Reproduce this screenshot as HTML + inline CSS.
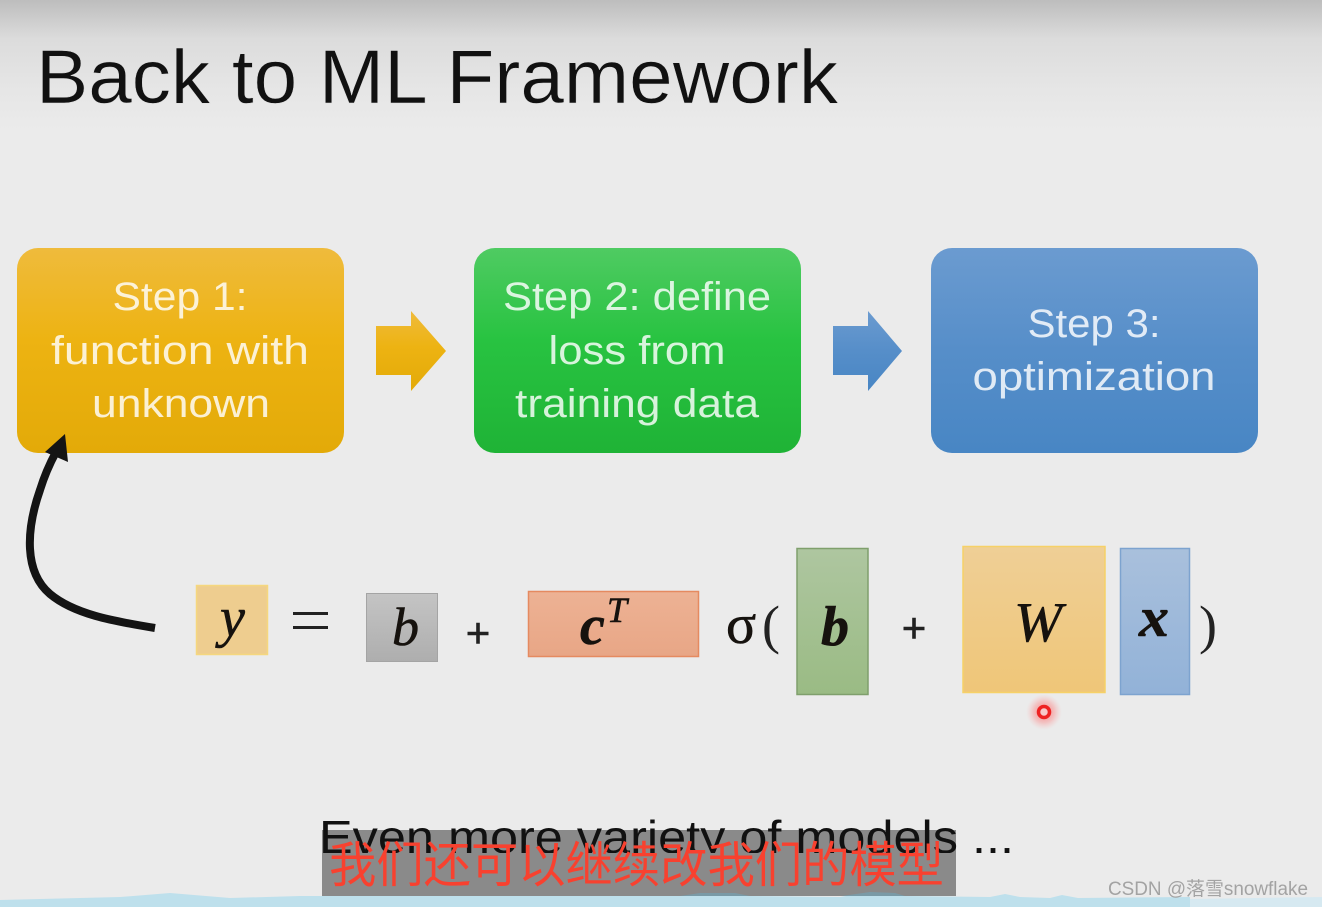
<!DOCTYPE html>
<html>
<head>
<meta charset="utf-8">
<style>
html,body{margin:0;padding:0;background:#ebebeb}
svg{display:block}
text{font-family:"Liberation Sans","Noto Sans CJK SC",sans-serif}
.m{font-family:"Liberation Serif",serif;font-style:italic;fill:#16120e;stroke:#16120e;stroke-width:.6px}
</style>
</head>
<body>
<svg width="1322" height="907" viewBox="0 0 1322 907" xmlns="http://www.w3.org/2000/svg">
<defs>
<linearGradient id="bg" x1="0" y1="0" x2="0" y2="1">
<stop offset="0" stop-color="#bdbdbd"/><stop offset=".3" stop-color="#dcdcdc"/><stop offset=".7" stop-color="#e6e6e6"/><stop offset="1" stop-color="#ebebeb"/>
</linearGradient>
<linearGradient id="o" x1="0" y1="0" x2="0" y2="1">
<stop offset="0" stop-color="#efbb3c"/><stop offset=".45" stop-color="#edb312"/><stop offset="1" stop-color="#e3aa08"/>
</linearGradient>
<linearGradient id="g" x1="0" y1="0" x2="0" y2="1">
<stop offset="0" stop-color="#4fcb62"/><stop offset=".45" stop-color="#28c341"/><stop offset="1" stop-color="#1fb336"/>
</linearGradient>
<linearGradient id="bl" x1="0" y1="0" x2="0" y2="1">
<stop offset="0" stop-color="#6b9bd0"/><stop offset=".5" stop-color="#568ec9"/><stop offset="1" stop-color="#4886c4"/>
</linearGradient>
<linearGradient id="gr" x1="0" y1="0" x2="0" y2="1"><stop offset="0" stop-color="#c4c4c4"/><stop offset="1" stop-color="#aeaeae"/></linearGradient>
<linearGradient id="sal" x1="0" y1="0" x2="0" y2="1"><stop offset="0" stop-color="#edb294"/><stop offset="1" stop-color="#e8a686"/></linearGradient>
<linearGradient id="grn" x1="0" y1="0" x2="0" y2="1"><stop offset="0" stop-color="#aec6a0"/><stop offset="1" stop-color="#9abb84"/></linearGradient>
<linearGradient id="yel" x1="0" y1="0" x2="0" y2="1"><stop offset="0" stop-color="#efcf96"/><stop offset="1" stop-color="#efc678"/></linearGradient>
<linearGradient id="blu" x1="0" y1="0" x2="0" y2="1"><stop offset="0" stop-color="#a9c0dc"/><stop offset="1" stop-color="#92b2d8"/></linearGradient>
<radialGradient id="glow"><stop offset="0" stop-color="#f44" stop-opacity=".7"/><stop offset=".6" stop-color="#f77" stop-opacity=".35"/><stop offset="1" stop-color="#faa" stop-opacity="0"/></radialGradient>
</defs>

<rect width="1322" height="907" fill="#ebebeb"/>
<rect width="1322" height="130" fill="url(#bg)"/>

<text x="36" y="103" font-size="76" fill="#111" stroke="#dedede" stroke-width=".5" textLength="802" lengthAdjust="spacingAndGlyphs">Back to ML Framework</text>

<!-- boxes -->
<rect x="17" y="248" width="327" height="205" rx="21" fill="url(#o)"/>
<rect x="474" y="248" width="327" height="205" rx="21" fill="url(#g)"/>
<rect x="931" y="248" width="327" height="205" rx="21" fill="url(#bl)"/>

<g fill="#fff" fill-opacity=".82" font-size="40" text-anchor="middle">
<text x="180" y="310" textLength="135" lengthAdjust="spacingAndGlyphs">Step 1:</text>
<text x="180" y="364" textLength="258" lengthAdjust="spacingAndGlyphs">function with</text>
<text x="181" y="417" textLength="178" lengthAdjust="spacingAndGlyphs">unknown</text>
<text x="637" y="310" textLength="268" lengthAdjust="spacingAndGlyphs">Step 2: define</text>
<text x="637" y="364" textLength="177" lengthAdjust="spacingAndGlyphs">loss from</text>
<text x="637" y="417" textLength="244" lengthAdjust="spacingAndGlyphs">training data</text>
<text x="1094" y="337" textLength="133" lengthAdjust="spacingAndGlyphs">Step 3:</text>
<text x="1094" y="390" textLength="243" lengthAdjust="spacingAndGlyphs">optimization</text>
</g>

<!-- block arrows -->
<polygon points="376,326 411,326 411,311 446,351 411,391 411,375 376,375" fill="url(#o)"/>
<polygon points="833,326 868,326 868,311 902,351 868,391 868,375 833,375" fill="url(#bl)"/>

<!-- curved arrow -->
<path d="M155 628 C112 621 74 614 50 594 C24 572 26 530 40 490 C44 477 49 465 56 452" fill="none" stroke="#141414" stroke-width="8"/>
<polygon points="65,434 45,452 68,462" fill="#141414"/>

<!-- equation -->
<rect x="196.500" y="585.500" width="71" height="69" fill="#eecd8f" stroke="#f5d77e" stroke-width="1.500"/>
<text class="m" x="220" y="636" font-size="56">y</text>
<rect x="293" y="612" width="35" height="3" fill="#222"/>
<rect x="293" y="626" width="35" height="3" fill="#222"/>

<rect x="366.500" y="593.500" width="71" height="68" fill="url(#gr)" stroke="#a4a4a4"/>
<text class="m" x="392" y="645" font-size="54">b</text>

<text x="478" y="647" font-size="42" fill="#222" stroke="#222" stroke-width=".6" text-anchor="middle">+</text>

<rect x="528.500" y="591.500" width="170" height="65" fill="url(#sal)" stroke="#e58a60" stroke-width="1.500"/>
<text class="m" x="580" y="644" font-size="56" font-weight="bold">c</text>
<text class="m" x="607" y="622" font-size="36">T</text>

<text class="m" x="726" y="643" font-size="56" style="font-style:normal">σ</text>
<text x="762" y="643" font-size="54" fill="#222" style="font-family:'Liberation Serif',serif">(</text>

<rect x="797" y="548.500" width="71" height="146" fill="url(#grn)" stroke="#7f9f6c" stroke-width="1.500"/>
<text class="m" x="821" y="645" font-size="56" font-weight="bold">b</text>

<text x="914" y="642" font-size="42" fill="#222" stroke="#222" stroke-width=".6" text-anchor="middle">+</text>

<rect x="963" y="546.500" width="142" height="146" fill="url(#yel)" stroke="#f6d167" stroke-width="1.500"/>
<text class="m" x="1014" y="641" font-size="56" textLength="48" lengthAdjust="spacingAndGlyphs">W</text>

<rect x="1120.500" y="548.500" width="69" height="146" fill="url(#blu)" stroke="#7da3cf" stroke-width="1.500"/>
<text class="m" x="1139" y="636" font-size="56" font-weight="bold" textLength="30" lengthAdjust="spacingAndGlyphs">x</text>

<text x="1199" y="643" font-size="54" fill="#222" style="font-family:'Liberation Serif',serif">)</text>

<!-- pointer -->
<circle cx="1044" cy="712" r="18" fill="url(#glow)"/>
<circle cx="1044" cy="712" r="5.500" fill="#f8c8c8" stroke="#ee2222" stroke-width="3.500"/>

<!-- bottom sea strip -->
<path d="M0 900 L120 897 L170 893 L230 898 L300 896 L420 896 L660 896 L700 893 L750 896 L840 897 L870 892 L905 896 L990 897 L1005 894 L1020 897 L1050 898 L1062 895 L1078 898 L1190 897 L1190 907 L0 907Z" fill="#bee0ec"/>
<path d="M1190 899 L1322 897 L1322 907 L1190 907Z" fill="#d6e9f1"/>

<!-- caption -->
<rect x="322" y="830" width="634" height="66" fill="#8a8a8a"/>
<text x="319" y="853" font-size="46" fill="#111" textLength="695" lengthAdjust="spacingAndGlyphs">Even more variety of models ...</text>
<rect x="322" y="853" width="634" height="43" fill="#8a8a8a"/>
<path d="M680 896 L700 893 L735 893 L750 896Z M842 896 L870 892 L895 893 L905 896Z" fill="#7a9aa6"/>
<text x="329" y="882" font-size="49" fill="#f8412f" textLength="615" lengthAdjust="spacingAndGlyphs" style="font-family:'Liberation Sans','Noto Sans CJK SC',sans-serif">我们还可以继续改我们的模型</text>

<text x="1108" y="895" font-size="19" fill="#a3a3a3" textLength="200" lengthAdjust="spacingAndGlyphs">CSDN @落雪snowflake</text>
</svg>
</body>
</html>
